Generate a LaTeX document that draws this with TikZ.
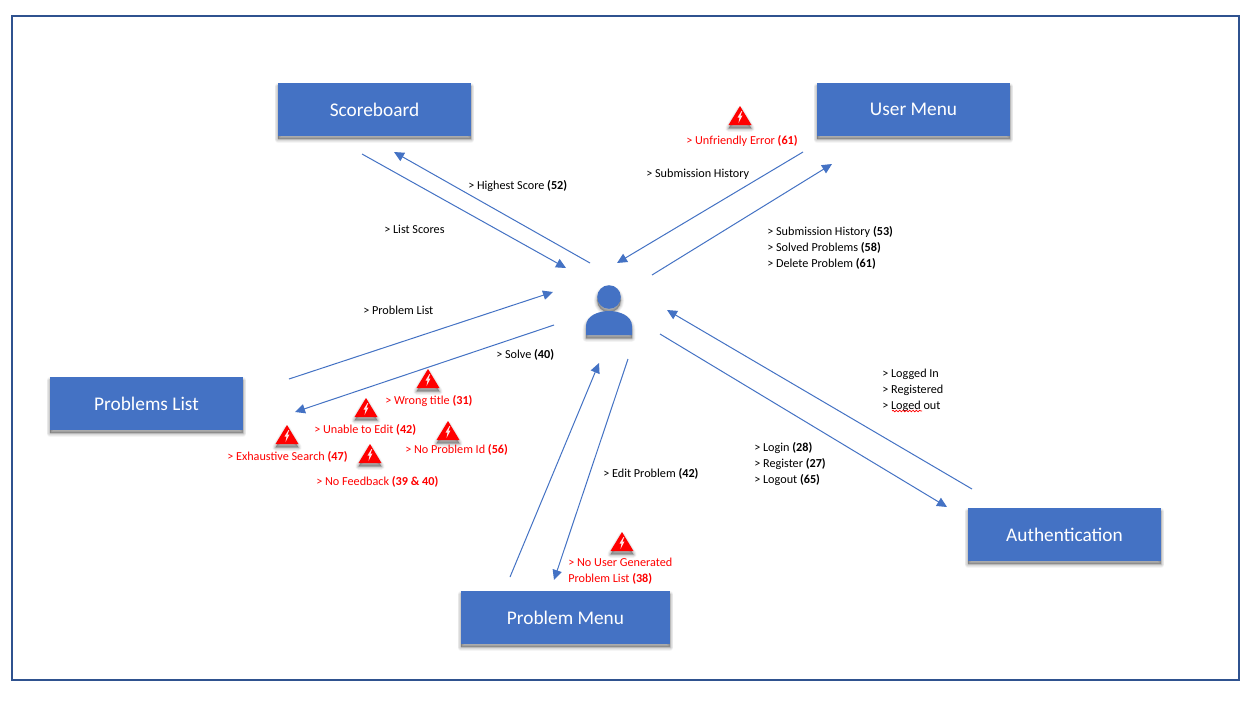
\documentclass[tikz,border=0pt]{standalone}
\usepackage{fontspec}
\setmainfont{Carlito}
\usetikzlibrary{arrows.meta,decorations.pathmorphing}
\definecolor{accentblue}{HTML}{4472C4}
\definecolor{framedark}{HTML}{2F528F}
\definecolor{warnred}{HTML}{FF0000}
\tikzset{
  shadowlayer/.style 2 args={preaction={draw=black,fill=black,draw opacity=#1,fill opacity=0,line width=#2,line join=round,transform canvas={yshift=-2.6pt}}},
  softshadow/.style={
    shadowlayer={.04}{5pt},shadowlayer={.05}{3.8pt},shadowlayer={.06}{2.6pt},shadowlayer={.07}{1.5pt},shadowlayer={.08}{.5pt},
    preaction={fill=black,fill opacity=.3,transform canvas={yshift=-2.6pt}}},
  menubox/.style={softshadow,fill=accentblue,text=white,inner sep=0pt,font=\fontsize{14.5}{17}\selectfont},
  link/.style={draw=accentblue,line width=.75pt,-{Triangle[length=7.5pt,width=7pt]}},
  note/.style={anchor=west,align=left,inner sep=0pt,text=black,font=\fontsize{9.15}{12}\selectfont},
  bugnote/.style={note,text=warnred},
  pics/warnsign/.style={code={
    \fill[softshadow,warnred] (0,0) -- (11.5,19) -- (-11.5,19) -- cycle;
    \fill[white,opacity=.9] (1.5,5) -- (-2.5,11.5) -- (-.5,11.5) -- (-1.5,17) -- (2.5,9.5) -- (.5,9.5) -- (2.2,5) -- cycle;
  }}
}
\begin{document}
\begin{tikzpicture}[x=.75pt,y=-.75pt]
\useasboundingbox (0,0) rectangle (1257,701);
\fill[white] (0,0) rectangle (1257,701);
\draw[framedark,line width=1.5pt] (12,16) rectangle (1239,680);

% boxes
\node[menubox,minimum width=144.75pt,minimum height=39.75pt] (score) at (374.5,109.5) {Scoreboard};
\node[menubox,minimum width=144.75pt,minimum height=39.75pt] (umenu) at (913.5,109.5) {User Menu};
\node[menubox,minimum width=144.75pt,minimum height=39.75pt] (plist) at (146.5,403.5) {Problems List};
\node[menubox,minimum width=156.75pt,minimum height=39.75pt] (pmenu) at (565.5,617.5) {Problem Menu};
\node[menubox,minimum width=144.75pt,minimum height=39.75pt] (auth) at (1064.5,534.5) {Authentication};

% user icon
\fill[softshadow,accentblue] (609,297) circle[radius=11.8];
\fill[softshadow,accentblue] (586,335) -- (586,326) .. controls (586,316) and (598,311) .. (609,311) .. controls (620,311) and (632,316) .. (632,326) -- (632,335) -- cycle;

% connector ends
\coordinate (a1) at (362,154); \coordinate (a2) at (566,268);
\coordinate (b1) at (590,263); \coordinate (b2) at (394,152);
\coordinate (c1) at (803,152); \coordinate (c2) at (617,263);
\coordinate (d1) at (652,275); \coordinate (d2) at (832,164);
\coordinate (e1) at (289,379); \coordinate (e2) at (553,292);
\coordinate (f1) at (554,325); \coordinate (f2) at (295,412);
\coordinate (g1) at (510,577); \coordinate (g2) at (599,363);
\coordinate (h1) at (628,359); \coordinate (h2) at (554,580);
\coordinate (i1) at (972,489); \coordinate (i2) at (667,310);
\coordinate (j1) at (660,334); \coordinate (j2) at (947,507);
\foreach \s/\t in {a1/a2,b1/b2,c1/c2,d1/d2,e1/e2,f1/f2,g1/g2,h1/h2,i1/i2,j1/j2}
  \draw[link] (\s) -- (\t);

% black labels
\node[note] (n1) at (468,186) {> Highest Score \textbf{(52)}};
\node[note] (n2) at (384,229) {> List Scores};
\node[note] (n3) at (646,174) {> Submission History};
\node[note] (n4) at (767,248) {> Submission History \textbf{(53)}\\> Solved Problems \textbf{(58)}\\> Delete Problem \textbf{(61)}};
\node[note] (n5) at (363,310) {> Problem List};
\node[note] (n6) at (496,355) {> Solve \textbf{(40)}};
\node[note] (n7) at (603,474) {> Edit Problem \textbf{(42)}};
\node[note] (n8) at (754,464) {> Login \textbf{(28)}\\> Register \textbf{(27)}\\> Logout \textbf{(65)}};
\node[note] (n9) at (882,390) {> Logged In\\> Registered\\> Loged out};
\draw[warnred,line width=.5pt,decorate,decoration={snake,amplitude=.6pt,segment length=2.5pt}] (892,411) -- (922,411);

% warnings
\pic at (740,106) {warnsign};
\pic at (622,532) {warnsign};
\pic at (428,369) {warnsign};
\pic at (366,398) {warnsign};
\pic at (287,425) {warnsign};
\pic at (448,421) {warnsign};
\pic at (370,444) {warnsign};

% red labels
\node[bugnote] (r1) at (686,141) {> Unfriendly Error \textbf{(61)}};
\node[bugnote] (r2) at (568,571) {> No User Generated\\Problem List \textbf{(38)}};
\node[bugnote] (r3) at (385,401) {> Wrong title \textbf{(31)}};
\node[bugnote] (r4) at (314,430) {> Unable to Edit \textbf{(42)}};
\node[bugnote] (r5) at (227,457) {> Exhaustive Search \textbf{(47)}};
\node[bugnote] (r6) at (405,450) {> No Problem Id \textbf{(56)}};
\node[bugnote] (r7) at (316,482) {> No Feedback \textbf{(39 \& 40)}};
\end{tikzpicture}
\end{document}
